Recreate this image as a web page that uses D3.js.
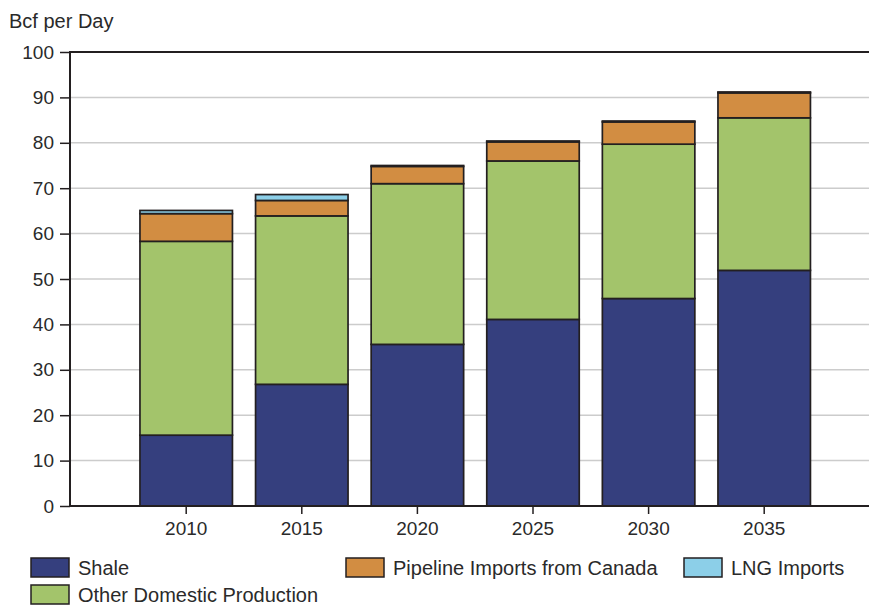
<!DOCTYPE html>
<html>
<head>
<meta charset="utf-8">
<script src="https://cdn.jsdelivr.net/npm/d3@7"></script>
<style>
  body { margin: 0; background: #fff; }
  svg text { font-family: "Liberation Sans", Arial, sans-serif; fill: #2a2a2a; }
</style>
</head>
<body>
<svg id="chart" width="869" height="605"></svg>
<script>
const years = ["2010", "2015", "2020", "2025", "2030", "2035"];
const shale = [15.6, 26.8, 35.6, 41.1, 45.7, 51.9];
const otherDomestic = [42.7, 37.1, 35.4, 34.9, 34.0, 33.6];
const pipelineCanada = [6.1, 3.4, 3.8, 4.2, 4.9, 5.5];
const lngImports = [0.7, 1.3, 0.2, 0.2, 0.2, 0.2];
const yTicks = [0, 10, 20, 30, 40, 50, 60, 70, 80, 90, 100];
const seriesNames = ["Shale", "Other Domestic Production", "Pipeline Imports from Canada", "LNG Imports"];
const seriesColors = ["#353f7e", "#a3c46b", "#d28d42", "#8ccfe8"];

const rows = years.map((yr, i) => ({
  year: yr,
  "Shale": shale[i],
  "Other Domestic Production": otherDomestic[i],
  "Pipeline Imports from Canada": pipelineCanada[i],
  "LNG Imports": lngImports[i]
}));

const svg = d3.select("#chart");
const mLeft = 70, mRight = 869, mTop = 52, mBottom = 506;

const y = d3.scaleLinear().domain([0, 100]).range([mBottom, mTop]);
const x = d3.scaleBand().domain(years).range([128.4, 822]).paddingInner(0.2).paddingOuter(0.1);

// gridlines
svg.append("g").selectAll("line").data(yTicks.filter(d => d > 0 && d < 100)).join("line")
  .attr("x1", mLeft).attr("x2", mRight)
  .attr("y1", d => y(d)).attr("y2", d => y(d))
  .attr("stroke", "#cccccc").attr("stroke-width", 1.5);

// bars
const stack = d3.stack().keys(seriesNames)(rows);
const color = d3.scaleOrdinal().domain(seriesNames).range(seriesColors);
svg.append("g").selectAll("g").data(stack).join("g")
  .attr("fill", d => color(d.key))
  .selectAll("rect").data(d => d).join("rect")
  .attr("x", d => x(d.data.year))
  .attr("width", x.bandwidth())
  .attr("y", d => y(d[1]))
  .attr("height", d => y(d[0]) - y(d[1]))
  .attr("stroke", "#231f20").attr("stroke-width", 1.7);

// top frame line at 100
svg.append("line").attr("x1", mLeft).attr("x2", mRight).attr("y1", y(100)).attr("y2", y(100))
  .attr("stroke", "#231f20").attr("stroke-width", 2);

// y axis
const yAxis = d3.axisLeft(y).tickValues(yTicks).tickSize(10).tickPadding(6).tickFormat(d3.format("d"));
const gy = svg.append("g").attr("transform", `translate(${mLeft},0)`).call(yAxis);
gy.select(".domain").remove();
gy.selectAll(".tick line").attr("stroke", "#231f20").attr("stroke-width", 1.5);
gy.selectAll(".tick text").attr("font-size", 19).attr("font-family", "Liberation Sans, Arial, sans-serif").attr("fill", "#2a2a2a");
svg.append("line").attr("x1", mLeft).attr("x2", mLeft).attr("y1", mTop - 1).attr("y2", mBottom + 1)
  .attr("stroke", "#231f20").attr("stroke-width", 2);

// x axis
const xAxis = d3.axisBottom(x).tickSize(8).tickPadding(8);
const gx = svg.append("g").attr("transform", `translate(0,${mBottom})`).call(xAxis);
gx.select(".domain").remove();
gx.selectAll(".tick line").attr("stroke", "#231f20").attr("stroke-width", 1.5);
gx.selectAll(".tick text").attr("font-size", 19).attr("font-family", "Liberation Sans, Arial, sans-serif").attr("fill", "#2a2a2a");
svg.append("line").attr("x1", mLeft - 1).attr("x2", mRight).attr("y1", mBottom).attr("y2", mBottom)
  .attr("stroke", "#231f20").attr("stroke-width", 2);

// axis title
svg.append("text").attr("x", 9).attr("y", 28).attr("font-size", 20).text("Bcf per Day");

// legend
const legendItems = [
  { name: "Shale", x: 31, y: 558 },
  { name: "Pipeline Imports from Canada", x: 346, y: 558 },
  { name: "LNG Imports", x: 684, y: 558 },
  { name: "Other Domestic Production", x: 31, y: 585 }
];
const lg = svg.append("g").selectAll("g").data(legendItems).join("g")
  .attr("transform", d => `translate(${d.x},${d.y})`);
lg.append("rect").attr("width", 38).attr("height", 19)
  .attr("fill", d => color(d.name)).attr("stroke", "#231f20").attr("stroke-width", 1.5);
lg.append("text").attr("x", 47).attr("y", 17).attr("font-size", 20).text(d => d.name);
</script>
</body>
</html>
